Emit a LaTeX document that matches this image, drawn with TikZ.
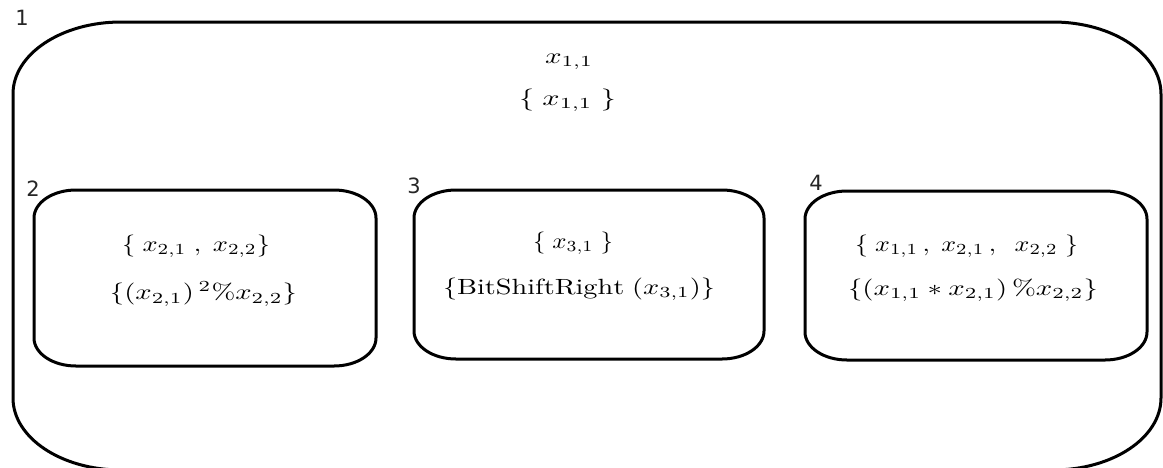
\documentclass[tikz,border=0pt]{standalone}
\usepackage{fontspec}
\usepackage{graphicx}
\newfontfamily\labfont{DejaVu Sans}
\usetikzlibrary{calc}
\newcommand{\mt}[2]{\resizebox{#1pt}{\height}{\scalebox{2.2}{$#2$}}}
\newcommand{\ebox}[3]{%
  \draw[frame]
    ($(#1.north west)+(#2,0)$) -- ($(#1.north east)+(-#2,0)$)
    .. controls ($(#1.north east)+(-0.4477*#2,0)$) and ($(#1.north east)+(0,0.4477*#3)$) .. ($(#1.north east)+(0,#3)$)
    -- ($(#1.south east)+(0,-#3)$)
    .. controls ($(#1.south east)+(0,-0.4477*#3)$) and ($(#1.south east)+(-0.4477*#2,0)$) .. ($(#1.south east)+(-#2,0)$)
    -- ($(#1.south west)+(#2,0)$)
    .. controls ($(#1.south west)+(0.4477*#2,0)$) and ($(#1.south west)+(0,-0.4477*#3)$) .. ($(#1.south west)+(0,-#3)$)
    -- ($(#1.north west)+(0,#3)$)
    .. controls ($(#1.north west)+(0,0.4477*#3)$) and ($(#1.north west)+(0.4477*#2,0)$) .. ($(#1.north west)+(#2,0)$)
    -- cycle;}
\tikzset{
  frame/.style={line width=3pt, black},
  area/.style={rectangle, draw=none, inner sep=0pt, outer sep=0pt},
  txt/.style={inner sep=0pt, text=black},
  lab/.style={inner sep=0pt, font=\labfont\fontsize{21}{21}\selectfont, text=black!85}
}
\begin{document}
\begin{tikzpicture}[x=1pt,y=-1pt]
\useasboundingbox (0,0) rectangle (1163,467);
\clip (0,0) rectangle (1163,467);
\fill[white] (0,0) rectangle (1163,467);
% outer container
\node[area, minimum width=1148pt, minimum height=448pt] (b1) at (587,246) {};
\ebox{b1}{108}{72}
% inner boxes
\node[area, minimum width=342pt, minimum height=176pt] (b2) at (205,278) {};
\ebox{b2}{42}{28}
\node[area, minimum width=350pt, minimum height=169pt] (b3) at (589,274.5) {};
\ebox{b3}{42}{28}
\node[area, minimum width=342pt, minimum height=169pt] (b4) at (976,275.5) {};
\ebox{b4}{42}{28}
% labels
\node[lab] (l1) at (22,18) {1};
\node[lab] (l2) at (33,189) {2};
\node[lab] (l3) at (414,186) {3};
\node[lab] (l4) at (816,183) {4};
% texts
\node[txt] (t11) at (569,62) {\mt{48}{x_{1,1}}};
\node[txt] (t12) at (567.5,100) {\mt{97}{\{\;x_{1,1}\;\}}};
\node[txt] (t21) at (196,246) {\mt{148}{\{\;x_{2,1}\;,\;x_{2,2}\}}};
\node[txt] (t22) at (203.5,294) {\mt{187}{\{(x_{2,1})\,{}^{2}\%x_{2,2}\}}};
\node[txt] (t31) at (573,243) {\mt{80}{\{\;x_{3,1}\;\}}};
\node[txt] (t32) at (579,289) {\mt{272}{\{\mathrm{BitShiftRight}\;(x_{3,1})\}}};
\node[txt] (t41) at (966.5,246) {\mt{223}{\{\;x_{1,1}\,,\;x_{2,1}\,,\;\;x_{2,2}\;\}}};
\node[txt] (t42) at (973,290) {\mt{250}{\{(x_{1,1}*x_{2,1})\,\%x_{2,2}\}}};
\end{tikzpicture}
\end{document}
